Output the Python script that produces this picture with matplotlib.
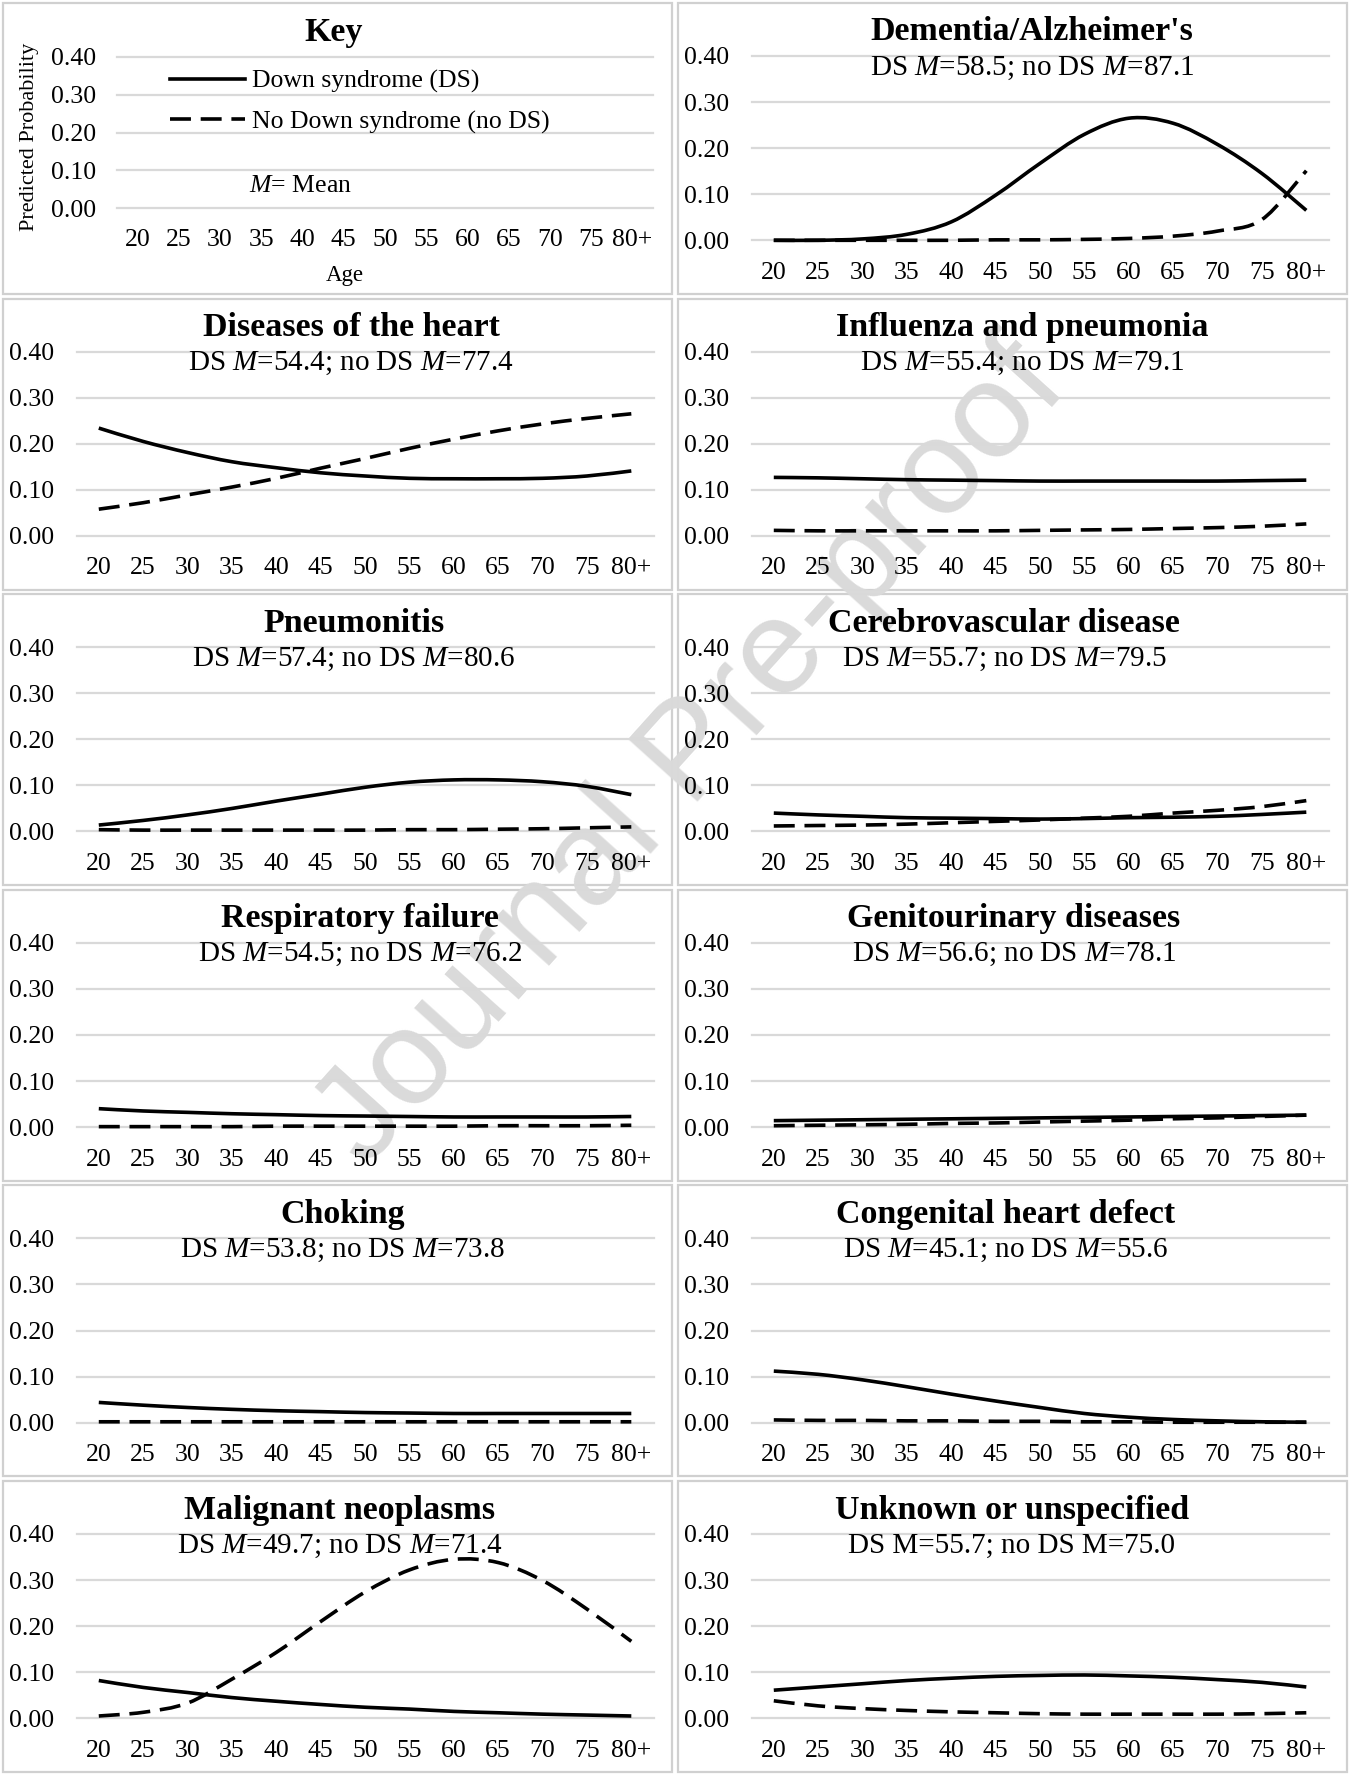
import numpy as np
import matplotlib
matplotlib.use('Agg')
import matplotlib.pyplot as plt
from matplotlib.patches import Rectangle, PathPatch
from matplotlib.path import Path
from matplotlib.lines import Line2D

plt.rcParams['font.family'] = ['Liberation Serif', 'DejaVu Serif']
plt.rcParams['mathtext.fontset'] = 'custom'
plt.rcParams['mathtext.rm'] = 'Liberation Serif'
plt.rcParams['mathtext.it'] = 'Liberation Serif:italic'

ages = ['20', '25', '30', '35', '40', '45', '50', '55', '60', '65', '70', '75', '80+']
yticks = [0.0, 0.1, 0.2, 0.3, 0.4]

# predicted probabilities, DS (solid) / no DS (dashed)
dementia_ds = [0.000, 0.000, 0.003, 0.013, 0.040, 0.098, 0.167, 0.230, 0.265, 0.254, 0.208, 0.145, 0.065]
dementia_nods = [0.000, 0.000, 0.000, 0.000, 0.000, 0.001, 0.001, 0.002, 0.004, 0.009, 0.020, 0.045, 0.151]
heart_ds = [0.234, 0.205, 0.181, 0.161, 0.148, 0.137, 0.130, 0.125, 0.124, 0.124, 0.125, 0.130, 0.141]
heart_nods = [0.058, 0.072, 0.089, 0.106, 0.125, 0.147, 0.168, 0.190, 0.210, 0.228, 0.243, 0.255, 0.265]
flu_ds = [0.127, 0.126, 0.124, 0.122, 0.121, 0.120, 0.119, 0.119, 0.119, 0.119, 0.119, 0.120, 0.121]
flu_nods = [0.012, 0.011, 0.011, 0.011, 0.011, 0.011, 0.012, 0.013, 0.014, 0.016, 0.018, 0.021, 0.026]
pneumonitis_ds = [0.014, 0.024, 0.036, 0.050, 0.066, 0.081, 0.096, 0.107, 0.112, 0.112, 0.108, 0.098, 0.080]
pneumonitis_nods = [0.004, 0.003, 0.003, 0.003, 0.003, 0.003, 0.003, 0.004, 0.004, 0.005, 0.006, 0.008, 0.010]
cerebro_ds = [0.040, 0.036, 0.033, 0.030, 0.029, 0.028, 0.027, 0.028, 0.030, 0.031, 0.033, 0.037, 0.042]
cerebro_nods = [0.012, 0.013, 0.014, 0.016, 0.019, 0.022, 0.025, 0.029, 0.033, 0.040, 0.046, 0.054, 0.067]
resp_ds = [0.040, 0.035, 0.032, 0.029, 0.027, 0.025, 0.024, 0.023, 0.022, 0.022, 0.022, 0.022, 0.023]
resp_nods = [0.001, 0.001, 0.001, 0.001, 0.002, 0.002, 0.002, 0.002, 0.002, 0.003, 0.003, 0.003, 0.004]
genito_ds = [0.014, 0.015, 0.016, 0.017, 0.018, 0.019, 0.020, 0.021, 0.022, 0.023, 0.024, 0.025, 0.026]
genito_nods = [0.003, 0.004, 0.005, 0.006, 0.008, 0.009, 0.011, 0.013, 0.015, 0.018, 0.020, 0.023, 0.026]
choking_ds = [0.044, 0.038, 0.033, 0.029, 0.026, 0.024, 0.022, 0.021, 0.020, 0.020, 0.020, 0.020, 0.020]
choking_nods = [0.002, 0.002, 0.002, 0.002, 0.002, 0.002, 0.002, 0.002, 0.002, 0.002, 0.002, 0.002, 0.002]
chd_ds = [0.112, 0.105, 0.093, 0.078, 0.062, 0.047, 0.033, 0.020, 0.012, 0.007, 0.004, 0.002, 0.001]
chd_nods = [0.006, 0.005, 0.005, 0.004, 0.004, 0.003, 0.003, 0.002, 0.002, 0.001, 0.001, 0.001, 0.001]
cancer_ds = [0.082, 0.067, 0.056, 0.045, 0.037, 0.030, 0.024, 0.020, 0.015, 0.012, 0.009, 0.007, 0.005]
cancer_nods = [0.005, 0.013, 0.033, 0.085, 0.143, 0.210, 0.274, 0.322, 0.345, 0.338, 0.299, 0.237, 0.167]
unknown_ds = [0.061, 0.068, 0.075, 0.082, 0.087, 0.091, 0.093, 0.094, 0.092, 0.089, 0.084, 0.078, 0.068]
unknown_nods = [0.038, 0.027, 0.021, 0.017, 0.014, 0.012, 0.010, 0.009, 0.009, 0.009, 0.009, 0.010, 0.012]

titles = ["Dementia/Alzheimer's", 'Diseases of the heart', 'Influenza and pneumonia',
          'Pneumonitis', 'Cerebrovascular disease', 'Respiratory failure',
          'Genitourinary diseases', 'Choking', 'Congenital heart defect',
          'Malignant neoplasms', 'Unknown or unspecified']
subtitles = ['DS $M$=58.5; no DS $M$=87.1', 'DS $M$=54.4; no DS $M$=77.4',
             'DS $M$=55.4; no DS $M$=79.1', 'DS $M$=57.4; no DS $M$=80.6',
             'DS $M$=55.7; no DS $M$=79.5', 'DS $M$=54.5; no DS $M$=76.2',
             'DS $M$=56.6; no DS $M$=78.1', 'DS $M$=53.8; no DS $M$=73.8',
             'DS $M$=45.1; no DS $M$=55.6', 'DS $M$=49.7; no DS $M$=71.4',
             'DS M=55.7; no DS M=75.0']
ds_series = [dementia_ds, heart_ds, flu_ds, pneumonitis_ds, cerebro_ds, resp_ds,
             genito_ds, choking_ds, chd_ds, cancer_ds, unknown_ds]
nods_series = [dementia_nods, heart_nods, flu_nods, pneumonitis_nods, cerebro_nods, resp_nods,
               genito_nods, choking_nods, chd_nods, cancer_nods, unknown_nods]

# layout (pixels of the 1350x1775 picture)
W, H = 1350, 1775
title_cx = [357, 351, 347, 354, 329, 360, 339, 343, 331, 340, 337]
ROW_H = 295.6
GRID = '#d9d9d9'
LW = 2.6
DASH = (0, (5.8, 2.7))


def fx(x):
    return x / W


def fy(y):
    return 1 - y / H


def smooth_path(xs, ys):
    # excel style smoothed line: cubic bezier through the points
    p = np.column_stack([xs, ys]).astype(float)
    verts = [p[0]]
    codes = [Path.MOVETO]
    n = len(p)
    for i in range(n - 1):
        prev = p[i - 1] if i > 0 else p[i]
        nxt = p[i + 2] if i + 2 < n else p[i + 1]
        c1 = p[i] + (p[i + 1] - prev) / 6
        c2 = p[i + 1] - (nxt - p[i]) / 6
        verts += [c1, c2, p[i + 1]]
        codes += [Path.CURVE4] * 3
    return Path(verts, codes)


def make_axes(fig, left, right, top, bottom):
    ax = fig.add_axes([fx(left), fy(bottom), fx(right) - fx(left), fy(top) - fy(bottom)])
    ax.set_facecolor('none')
    ax.set_xlim(-0.5, len(ages) - 0.5)
    ax.set_ylim(0, 0.4)
    ax.set_yticks(yticks)
    ax.set_yticklabels(['%.2f' % v for v in yticks])
    ax.set_xticks(np.arange(len(ages)))
    ax.set_xticklabels(ages)
    for s in ax.spines.values():
        s.set_visible(False)
    ax.yaxis.grid(True, color=GRID, lw=1.6)
    for g in ax.get_ygridlines():
        g.set_clip_on(False)
    ax.tick_params(length=0, labelsize=18.5)
    ax.tick_params(axis='y', pad=16)
    return ax


fig = plt.figure(figsize=(W / 100, H / 100), dpi=100)

# watermark
fig.text(fx(692), fy(755), 'Journal Pre-proof', rotation=48, fontsize=98,
         color='#dadada', family='Liberation Sans', ha='center', va='center', zorder=-5)

# panel frames
for r in range(6):
    for c in range(2):
        top = 3 + ROW_H * r
        fig.patches.append(Rectangle((fx(3 + c * 675), fy(top + 291)), 669 / W, 291 / H,
                                     transform=fig.transFigure, fill=False,
                                     edgecolor='#d0d0d0', lw=1.6, zorder=-10))

# key panel
axk = make_axes(fig, 117, 653, 56.7, 208.3)
axk.tick_params(axis='x', pad=15)
axk.tick_params(axis='y', pad=15)
fig.text(fx(334), fy(32), 'Key', fontsize=24.5, weight='bold', ha='center', va='center')
fig.text(fx(30), fy(137), 'Predicted Probability', fontsize=16, rotation=90,
         ha='center', va='center')
fig.text(fx(345), fy(275), 'Age', fontsize=16.5, ha='center', va='center')
handles = [Line2D([], [], color='k', lw=LW),
           Line2D([], [], color='k', lw=LW, ls=DASH)]
axk.legend(handles, ['Down syndrome (DS)', 'No Down syndrome (no DS)'],
           loc='upper left', bbox_to_anchor=(fx(170), fy(70)), bbox_transform=fig.transFigure,
           frameon=False, fontsize=18.5, handlelength=2.9, handletextpad=0.3,
           labelspacing=0.66, borderpad=0, borderaxespad=0)
fig.text(fx(249), fy(186), '$M$= Mean', fontsize=18.5, ha='left', va='center')

# cause panels
x = np.arange(len(ages))
for i in range(len(titles)):
    k = i + 1
    r, c = k // 2, k % 2
    x0 = c * 675
    top = 3 + ROW_H * r
    ax = make_axes(fig, x0 + 76.6, x0 + 653.5, top + 53, top + 237.3)
    ax.tick_params(axis='x', pad=15.5)
    ax.add_patch(PathPatch(smooth_path(x, ds_series[i]), fill=False, edgecolor='k',
                           lw=LW, clip_on=False, capstyle='butt', zorder=3))
    ax.add_patch(PathPatch(smooth_path(x, nods_series[i]), fill=False, edgecolor='k',
                           lw=LW, ls=DASH, clip_on=False, capstyle='butt', zorder=3))
    fig.text(fx(x0 + title_cx[i]), fy(top + 29), titles[i], fontsize=24.5,
             weight='bold', ha='center', va='center')
    fig.text(fx(x0 + title_cx[i]), fy(top + 65), subtitles[i], fontsize=21,
             ha='center', va='center')

fig.savefig('out.png', dpi=100)
